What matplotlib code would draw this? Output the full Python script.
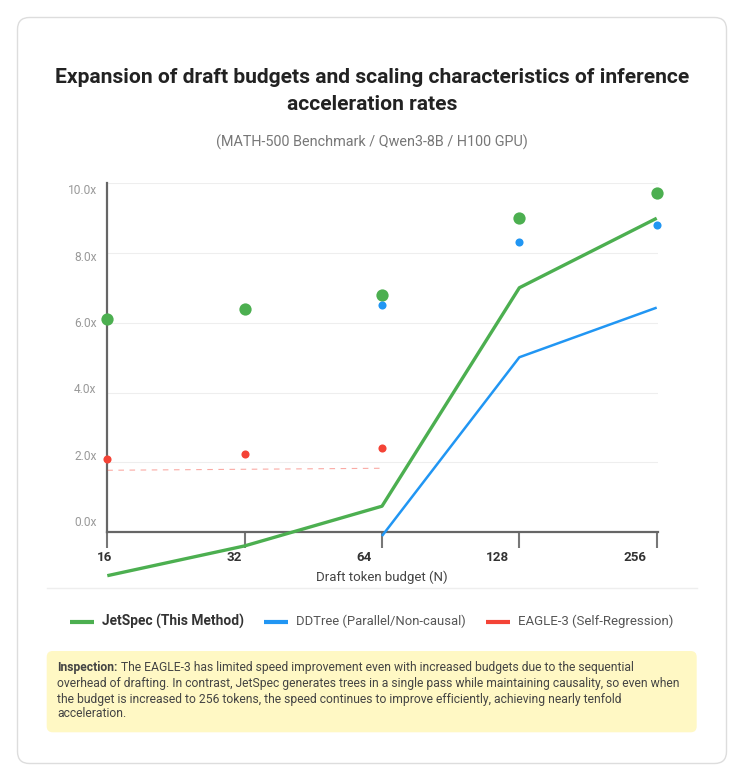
import matplotlib
matplotlib.use('Agg')
import matplotlib.pyplot as plt
import numpy as np
from matplotlib.patches import FancyBboxPatch
from matplotlib.lines import Line2D
from matplotlib.transforms import IdentityTransform, offset_copy

plt.rcParams['font.family'] = ['Liberation Sans Narrow', 'Roboto', 'DejaVu Sans']

# data
budgets = ['16', '32', '64', '128', '256']
jetspec = [6.1, 6.4, 6.8, 9.0, 9.7]
ddtree = [np.nan, np.nan, 6.5, 8.3, 8.8]
eagle = [2.1, 2.25, 2.4, np.nan, np.nan]
y_ticks = [0, 2, 4, 6, 8, 10]
series_names = ['JetSpec (This Method)', 'DDTree (Parallel/Non-causal)', 'EAGLE-3 (Self-Regression)']
colors = ['#4caf50', '#2196f3', '#f44336']

title_lines = ['Expansion of draft budgets and scaling characteristics of inference',
               'acceleration rates']
subtitle = '(MATH-500 Benchmark / Qwen3-8B / H100 GPU)'
note_bold = 'Inspection:'
note_lines = [' The EAGLE-3 has limited speed improvement even with increased budgets due to the sequential',
              'overhead of drafting. In contrast, JetSpec generates trees in a single pass while maintaining causality, so even when',
              'the budget is increased to 256 tokens, the speed continues to improve efficiently, achieving nearly tenfold',
              'acceleration.']

W, H = 744, 780
fig = plt.figure(figsize=(W / 100, H / 100), dpi=100)
fig.patch.set_facecolor('white')


def fx(x):
    return x / W


def fy(y):
    return 1 - y / H


# card + note box (pixel coords)
card = FancyBboxPatch((17.5, H - 763.5), 709, 746, boxstyle='round,pad=0,rounding_size=12',
                      fc='white', ec='#dddddd', lw=1, transform=IdentityTransform(), zorder=-10)
fig.add_artist(card)
note_box = FancyBboxPatch((46.7, H - 732.3), 650, 81.3, boxstyle='round,pad=0,rounding_size=6',
                          fc='#fff8c4', ec='none', transform=IdentityTransform(), zorder=-5)
fig.add_artist(note_box)
fig.add_artist(Line2D([fx(47), fx(697)], [fy(587.5), fy(587.5)], color='#eeeeee', lw=1))

# axes
left, right, bottom, top = 107.3, 658, 532.3, 183
ax = fig.add_axes([fx(left), fy(bottom), fx(right - left), (bottom - top) / H])
ax.patch.set_visible(False)
x = np.arange(len(budgets))
ax.set_xlim(0, 4 + (right - 656.7) / 137.35)
ax.set_ylim(0, 10)

# lines drawn on their own hidden scales (as in the original)
ax2 = ax.twinx()
ax2.set_ylim(6.537, 10.055)
ax2.axis('off')
ax3 = ax.twinx()
ax3.set_ylim(-7.2, 45.17)
ax3.axis('off')

ax2.plot(x, jetspec, color=colors[0], lw=2.4, clip_on=False, solid_capstyle='butt', zorder=3)
ax2.plot(x, ddtree, color=colors[1], lw=1.8, clip_on=False, solid_capstyle='butt', zorder=3)
ax3.plot(x, eagle, color=colors[2], lw=0.8, alpha=0.45, ls=(0, (5, 5)), clip_on=False)

ax.scatter(x, jetspec, s=78, color=colors[0], zorder=6, clip_on=False, lw=0)
ax.scatter(x, ddtree, s=34, color=colors[1], zorder=6, clip_on=False, lw=0)
ax.scatter(x, eagle, s=34, color=colors[2], zorder=6, clip_on=False, lw=0)

ax.set_yticks(y_ticks)
ax.set_yticklabels([])
ax.grid(axis='y', color='#eeeeee', lw=0.8)
ax.set_axisbelow(True)
ax.tick_params(axis='y', length=0)
ax.set_xticks(x)
ax.set_xticklabels([])
ax.tick_params(axis='x', length=11.5, width=1.5, color='#777777', direction='out')
for s in ['top', 'right']:
    ax.spines[s].set_visible(False)
for s in ['left', 'bottom']:
    ax.spines[s].set_color('#666666')
    ax.spines[s].set_linewidth(1.6)

# tick labels (the original squeezes them slightly)
ylab = []
ytr = offset_copy(ax.get_yaxis_transform(), fig=fig, x=-10.6, y=0, units='dots')
for v in y_ticks:
    ylab.append(ax.text(0, 0.274 + 0.9506 * v, f'{v:.1f}x', transform=ytr, ha='right', va='center',
                        color='#999999', fontsize=8))
xlab_shift = [-2.3, -10.3, -18.3, -21.8, -22]
xlab = []
for i, b in enumerate(budgets):
    tr = offset_copy(ax.get_xaxis_transform(), fig=fig, x=xlab_shift[i], y=-25.4, units='dots')
    xlab.append(ax.text(i, 0, b, transform=tr, ha='center', va='center', color='#333333',
                        fontsize=9, fontweight='bold'))
xlabel = fig.text(fx(381.5), fy(577.3), 'Draft token budget (N)', ha='center', va='center',
                  color='#444444', fontsize=9)

# titles
t1 = fig.text(fx(372.5), fy(77.7), title_lines[0], ha='center', va='center', color='#222222',
              fontsize=13, fontweight='bold')
t2 = fig.text(fx(372.5), fy(104), title_lines[1], ha='center', va='center', color='#222222',
              fontsize=13, fontweight='bold')
st = fig.text(fx(371.5), fy(142), subtitle, ha='center', va='center', color='#777777', fontsize=10)

# legend
sw_x = [70, 264, 486]
tx_x = [102.3, 296, 518.3]
leg = []
for i, name in enumerate(series_names):
    fig.add_artist(Line2D([fx(sw_x[i]), fx(sw_x[i] + 24)], [fy(621.7), fy(621.7)], color=colors[i],
                          lw=3, solid_capstyle='butt'))
    leg.append(fig.text(fx(tx_x[i]), fy(621.7), name, ha='left', va='center',
                        color='#333333' if i == 0 else '#555555', fontsize=9,
                        fontweight='bold' if i == 0 else 'normal'))

# note
note_y = [667.7, 683.3, 699, 713.7]
nb = fig.text(fx(57.3), fy(note_y[0]), note_bold, ha='left', va='center', color='#444444',
              fontsize=8, fontweight='bold')
nl = []
for i, line in enumerate(note_lines):
    nl.append(fig.text(fx(57.3), fy(note_y[i]), line, ha='left', va='center', color='#444444', fontsize=8))

# fit font sizes to the measured widths of the original
fig.canvas.draw()
rend = fig.canvas.get_renderer()


def fit(t, width):
    w = t.get_window_extent(rend).width
    return t.get_fontsize() * width / w


size = fit(t1, 635)
t1.set_fontsize(size)
t2.set_fontsize(size)
st.set_fontsize(fit(st, 313))
size = fit(ylab[-1], 29.4)
for t in ylab:
    t.set_fontsize(size)
size = fit(xlab[3], 23)
for t in xlab:
    t.set_fontsize(size)
xlabel.set_fontsize(fit(xlabel, 133))
leg[0].set_fontsize(fit(leg[0], 141))
leg[1].set_fontsize(fit(leg[1], 170))
leg[2].set_fontsize(fit(leg[2], 156))
size = fit(nl[1], 626)
for t in nl:
    t.set_fontsize(size)
nb.set_fontsize(size)

fig.canvas.draw()
bw = nb.get_window_extent(rend).width
nl[0].set_position((fx(57.3 + bw), fy(note_y[0])))

fig.savefig('out.png', dpi=100, facecolor='white')
